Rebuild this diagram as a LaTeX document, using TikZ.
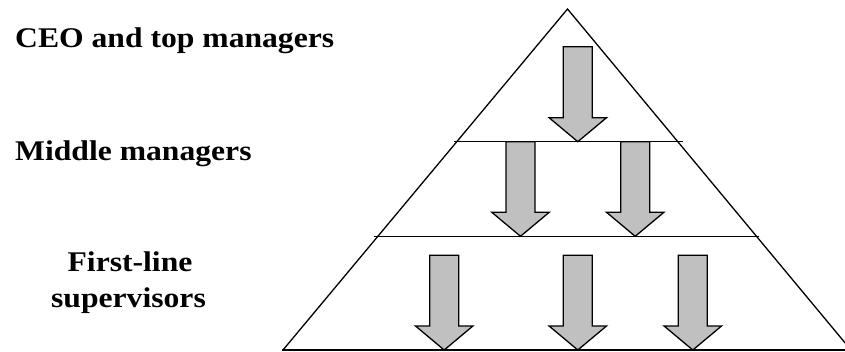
\documentclass[tikz,border=0pt]{standalone}
\usepackage{fontspec}
\setmainfont{Liberation Serif}
\definecolor{arrowgray}{HTML}{C0C0C0}
\tikzset{
  outline/.style={draw=black, line width=1.3pt},
  arrowbox/.style={draw=black, line width=1.3pt, fill=arrowgray, line join=miter},
  levellabel/.style={font=\fontsize{28.5}{34}\selectfont\bfseries, inner sep=0pt}
}
\newcommand{\bigdown}[3]{%
  \draw[arrowbox] ({#1-14.5},#2) -- ({#1+14.5},#2) -- ({#1+14.5},{#3-24}) -- ({#1+28.7},{#3-24}) -- (#1,#3) -- ({#1-28.7},{#3-24}) -- ({#1-14.5},{#3-24}) -- cycle;}
\begin{document}
\begin{tikzpicture}[x=1pt,y=-1pt]
\useasboundingbox (0,0) rectangle (845,352);
\begin{scope}
\clip (0,0) rectangle (845,352);
% pyramid
\coordinate (apex) at (567.5,9);
\coordinate (bl) at (283,350);
\coordinate (br) at (851,350);
\draw[outline, line join=miter] (bl) -- (apex) -- (br);
\coordinate (l1a) at (454,141.7); \coordinate (l1b) at (683,141.7);
\coordinate (l2a) at (374,236.3); \coordinate (l2b) at (759,236.3);
\coordinate (l3a) at (282,350); \coordinate (l3b) at (846,350);
\draw[outline] (l1a) -- (l1b);
\draw[outline] (l2a) -- (l2b);
\draw[outline] (l3a) -- (l3b);
% arrows
\bigdown{577.8}{46.7}{141.7}
\bigdown{520.5}{141.7}{236.3}
\bigdown{635.2}{141.7}{236.3}
\bigdown{444.2}{255.3}{350}
\bigdown{577.8}{255.3}{350}
\bigdown{692.8}{255.3}{350}
\end{scope}
% labels
\node[levellabel, anchor=base west] (ceo) at (15,48) {\scalebox{1.11}[1]{CEO and top managers}};
\node[levellabel, anchor=base west] (mid) at (15,161) {\scalebox{1.11}[1]{Middle managers}};
\node[levellabel, anchor=base] (fl1) at (130,272) {\scalebox{1.11}[1]{First-line}};
\node[levellabel, anchor=base] (fl2) at (128.5,307) {\scalebox{1.11}[1]{supervisors}};
\end{tikzpicture}
\end{document}
